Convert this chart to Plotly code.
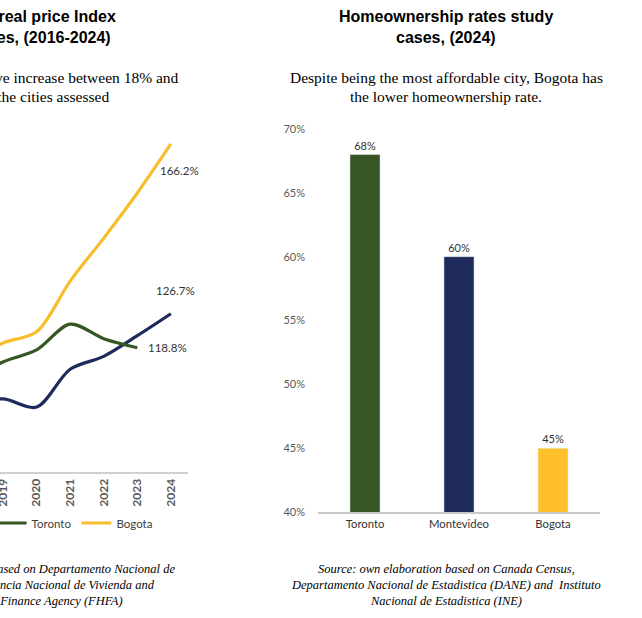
import plotly.graph_objects as go

W, H = 642, 618

# ---- data: housing real price index (left chart, partly visible) ----
years = [2016, 2017, 2018, 2019, 2020, 2021, 2022, 2023, 2024]
montevideo = [100.0, 103.0, 105.5, 106.9, 105.0, 113.8, 116.8, 121.6, 126.7]
toronto = [100.0, 105.0, 111.0, 115.5, 118.3, 124.3, 120.9, 118.8, None]
bogota = [100.0, 108.0, 115.5, 119.9, 122.5, 134.3, 144.3, 154.8, 166.2]
year_ticks = [2019, 2020, 2021, 2022, 2023, 2024]

# ---- data: homeownership rates (right chart) ----
cities = ["Toronto", "Montevideo", "Bogota"]
rates = [0.68, 0.60, 0.45]
rate_ticks = [0.40, 0.45, 0.50, 0.55, 0.60, 0.65, 0.70]

GREEN = "#375623"
NAVY = "#1F2A5C"
YELLOW = "#F6BE2C"
BAR_YELLOW = "#FFC02B"

def fx(px):
    return px / W

def fy(py):
    return 1 - py / H

fig = go.Figure()

for name, vals, col in [("Montevideo", montevideo, NAVY),
                        ("Toronto", toronto, GREEN),
                        ("Bogota", bogota, YELLOW)]:
    fig.add_trace(go.Scatter(
        x=years, y=vals, name=name, mode="lines",
        line=dict(color=col, width=3.2, shape="spline", smoothing=0.9),
        xaxis="x", yaxis="y", connectgaps=False,
    ))

fig.add_trace(go.Bar(
    x=cities, y=rates, marker_color=[GREEN, NAVY, BAR_YELLOW],
    width=0.32, showlegend=False, xaxis="x2", yaxis="y2",
    texttemplate="%{y:.0%}", textposition="outside",
    textfont=dict(family="Lato", size=11, color="#333333"),
    cliponaxis=False,
))

label_font = dict(family="Lato", size=11.5, color="#333333")
annotations = [
    dict(x=2024, y=bogota[-1], xref="x", yref="y", text="166.2%", showarrow=False,
         xshift=9, yshift=-27, font=label_font),
    dict(x=2024, y=montevideo[-1], xref="x", yref="y", text="126.7%", showarrow=False,
         xshift=5, yshift=23, font=label_font),
    dict(x=2023, y=toronto[-2], xref="x", yref="y", text="118.8%", showarrow=False,
         xshift=30, yshift=0, font=label_font),
]

title_font = dict(family="Liberation Sans", size=16, color="#000000")
sub_font = dict(family="Liberation Serif", size=15.5, color="#000000")
src_font = dict(family="Liberation Serif", size=12.5, color="#000000")

def txt(text, xpx, ypx, font, anchor="center"):
    annotations.append(dict(text=text, x=fx(xpx), y=fy(ypx), xref="paper", yref="paper",
                            xanchor=anchor, yanchor="middle", showarrow=False, font=font))

# left (cropped) texts
txt("<b>Housing real price Index</b>", 118, 16, title_font, "right")
txt("<b>study cases, (2016-2024)</b>", 113, 37, title_font, "right")
txt("a cumulative increase between 18% and", 181, 78, sub_font, "right")
txt("66% in the cities assessed", 111, 97, sub_font, "right")
txt("<i>Source: own elaboration based on Departamento Nacional de</i>", 177, 569, src_font, "right")
txt("<i>Estadistica (DANE), Agencia Nacional de Vivienda and</i>", 157, 585, src_font, "right")
txt("<i>Federal Housing Finance Agency (FHFA)</i>", 125, 601, src_font, "right")

# right texts
txt("<b>Homeownership rates study</b>", 446, 16, title_font)
txt("<b>cases, (2024)</b>", 446, 37, title_font)
txt("Despite being the most affordable city, Bogota has", 446, 78, sub_font)
txt("the lower homeownership rate.", 446, 97, sub_font)
txt("<i>Source: own elaboration based on Canada Census,</i>", 446, 569, src_font)
txt("<i>Departamento Nacional de Estadistica (DANE) and  Instituto</i>", 446, 585, src_font)
txt("<i>Nacional de Estadistica (INE)</i>", 446, 601, src_font)

fig.update_layout(
    width=W, height=H,
    margin=dict(l=0, r=0, t=0, b=0, autoexpand=False),
    paper_bgcolor="white", plot_bgcolor="white",
    showlegend=True,
    legend=dict(orientation="h", x=fx(158), xanchor="right", y=fy(523), yanchor="middle",
                font=dict(family="Lato", size=11.5, color="#404040"),
                bgcolor="rgba(0,0,0,0)", itemwidth=30, tracegroupgap=0),
    xaxis=dict(domain=[0, fx(188)], range=[2018.91, 2024.51], tickmode="array",
               tickvals=year_ticks, ticktext=[str(y) for y in year_ticks], tickangle=-90,
               showline=True, linecolor="#D0D0D0", linewidth=2, showgrid=False,
               zeroline=False, ticks="", anchor="y", ticklabeloverflow="allow",
               tickfont=dict(family="Lato", size=12, color="#595959", weight="bold")),
    yaxis=dict(domain=[fy(472), fy(110)], range=[89.9, 174.1], visible=False, anchor="x"),
    xaxis2=dict(domain=[fx(318), fx(600)], anchor="y2", showline=True, linecolor="#C8C8C8",
                linewidth=2, showgrid=False, zeroline=False, ticks="",
                tickfont=dict(family="Lato", size=11.3, color="#333333")),
    yaxis2=dict(domain=[fy(512), fy(129)], range=[0.40, 0.70], anchor="x2",
                tickmode="array", tickvals=rate_ticks, tickformat=".0%",
                showgrid=False, zeroline=False, showline=False, ticks="",
                ticklabelstandoff=12,
                tickfont=dict(family="Lato", size=11, color="#595959")),
    annotations=annotations,
)

fig.write_html("out.html", config={"displayModeBar": False},
               post_script="document.body.style.margin='0';document.body.style.overflow='hidden';")
